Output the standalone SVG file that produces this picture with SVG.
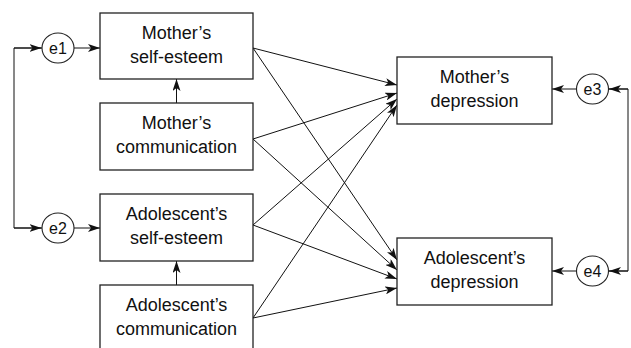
<svg xmlns="http://www.w3.org/2000/svg" width="631" height="348" viewBox="0 0 631 348">
<style>
.box{fill:#fff;stroke:#222;stroke-width:1.3}
.ell{fill:#fff;stroke:#222;stroke-width:1.1}
.t{font-family:"Liberation Sans",Arial,sans-serif;font-size:18px;fill:#111;text-anchor:middle}
.e{font-family:"Liberation Sans",Arial,sans-serif;font-size:16px;fill:#111;text-anchor:middle}
.c{fill:none;stroke:#111;stroke-width:1;marker-end:url(#ah)}
.p{fill:none;stroke:#111;stroke-width:1}
</style>
<defs>
<marker id="ah" viewBox="0 0 12 8" refX="12" refY="4" markerWidth="12" markerHeight="8" markerUnits="userSpaceOnUse" orient="auto">
<path d="M0,0 L12,4 L0,8 L3,4 z" fill="#111"/>
</marker>
</defs>
<rect width="631" height="348" fill="#fff"/>
<g id="connectors">
<path class="p" d="M42,48 H14 V228 H42"/>
<line class="c" x1="14" y1="48" x2="41.5" y2="48"/>
<line class="c" x1="14" y1="228" x2="41.5" y2="228"/>
<line class="c" x1="74" y1="48" x2="100" y2="48"/>
<line class="c" x1="74" y1="228" x2="100" y2="228"/>
<line class="c" x1="176.5" y1="103" x2="176.5" y2="79"/>
<line class="c" x1="176.5" y1="285" x2="176.5" y2="261"/>
<path class="p" d="M609,89 H628 V271 H609"/>
<line class="c" x1="628" y1="89" x2="609" y2="89"/>
<line class="c" x1="628" y1="271" x2="609" y2="271"/>
<line class="c" x1="576" y1="89" x2="552" y2="89"/>
<line class="c" x1="576" y1="271" x2="552" y2="271"/>
<line class="c" x1="253" y1="48" x2="397" y2="85"/>
<line class="c" x1="253" y1="48" x2="397" y2="260"/>
<line class="c" x1="253" y1="139" x2="397" y2="93"/>
<line class="c" x1="253" y1="139" x2="397" y2="270"/>
<line class="c" x1="253" y1="225" x2="397" y2="99"/>
<line class="c" x1="253" y1="225" x2="397" y2="279"/>
<line class="c" x1="253" y1="318" x2="397" y2="105"/>
<line class="c" x1="253" y1="318" x2="397" y2="288"/>
</g>
<g id="e1"><ellipse class="ell" cx="58" cy="48" rx="16" ry="15"/><text class="e" x="58" y="54">e1</text></g>
<g id="e2"><ellipse class="ell" cx="58" cy="228" rx="16" ry="15"/><text class="e" x="58" y="234">e2</text></g>
<g id="e3"><ellipse class="ell" cx="592.5" cy="89" rx="16" ry="15"/><text class="e" x="592.5" y="95">e3</text></g>
<g id="e4"><ellipse class="ell" cx="592.5" cy="271" rx="16" ry="15"/><text class="e" x="592.5" y="277">e4</text></g>
<g id="mother-self-esteem"><rect class="box" x="100" y="13" width="153" height="66"/><text class="t" x="176.5" y="38.5">Mother’s</text><text class="t" x="176.5" y="63">self-esteem</text></g>
<g id="mother-communication"><rect class="box" x="100" y="103" width="153" height="67"/><text class="t" x="176.5" y="129">Mother’s</text><text class="t" x="176.5" y="153">communication</text></g>
<g id="adolescent-self-esteem"><rect class="box" x="100" y="194" width="153" height="67"/><text class="t" x="176.5" y="220">Adolescent’s</text><text class="t" x="176.5" y="244">self-esteem</text></g>
<g id="adolescent-communication"><rect class="box" x="100" y="285" width="153" height="70"/><text class="t" x="176.5" y="311">Adolescent’s</text><text class="t" x="176.5" y="335">communication</text></g>
<g id="mother-depression"><rect class="box" x="397" y="57" width="155" height="67"/><text class="t" x="474.5" y="83">Mother’s</text><text class="t" x="474.5" y="107">depression</text></g>
<g id="adolescent-depression"><rect class="box" x="397" y="238" width="155" height="67"/><text class="t" x="474.5" y="264">Adolescent’s</text><text class="t" x="474.5" y="288">depression</text></g>
</svg>
